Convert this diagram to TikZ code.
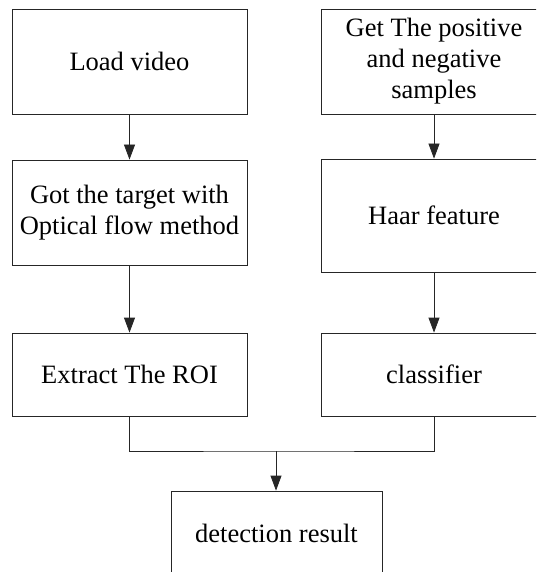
\documentclass[tikz,border=0pt]{standalone}
\usepackage{fontspec}
\setmainfont{Liberation Serif}
\usetikzlibrary{arrows.meta}
\begin{document}
\begin{tikzpicture}[x=1pt,y=-1pt,
  stepbox/.style={draw=black!85, line width=0.8pt, align=center, inner sep=0pt,
    font=\fontsize{26.5}{31}\selectfont},
  link/.style={draw=black!85, line width=0.8pt},
  arr/.style={link, -{Triangle[length=15pt,width=11pt]}}]
\useasboundingbox (0,0) rectangle (536,572);
\clip (0,0) rectangle (536,572);
% left column
\node[stepbox, minimum width=235pt, minimum height=105pt] (load) at (129.5,61.5) {Load video};
\node[stepbox, minimum width=235pt, minimum height=105pt] (flow) at (129.5,212.5) {Got the target with\\Optical flow method};
\node[stepbox, minimum width=235pt, minimum height=83pt] (roi) at (129.5,374.5) {Extract The ROI};
% right column
\node[stepbox, minimum width=226pt, minimum height=105pt] (samp) at (434,61.5) {Get The positive\\and negative\\samples};
\node[stepbox, minimum width=226pt, minimum height=113pt] (haar) at (434,215.5) {Haar feature};
\node[stepbox, minimum width=226pt, minimum height=83pt] (cls) at (434,374.5) {classifier};
% result
\node[stepbox, minimum width=211pt, minimum height=84pt] (res) at (276.5,533) {detection result};
\coordinate (join) at (276,451);
% connectors
\draw[arr] (load.south) -- (flow.north);
\draw[arr] (flow.south) -- (roi.north);
\draw[arr] (samp.south) -- (haar.north);
\draw[arr] (haar.south) -- (cls.north);
\draw[link] (roi.south) |- (join) -| (cls.south);
\draw[arr] (join) -- (join |- res.north);
\end{tikzpicture}
\end{document}
